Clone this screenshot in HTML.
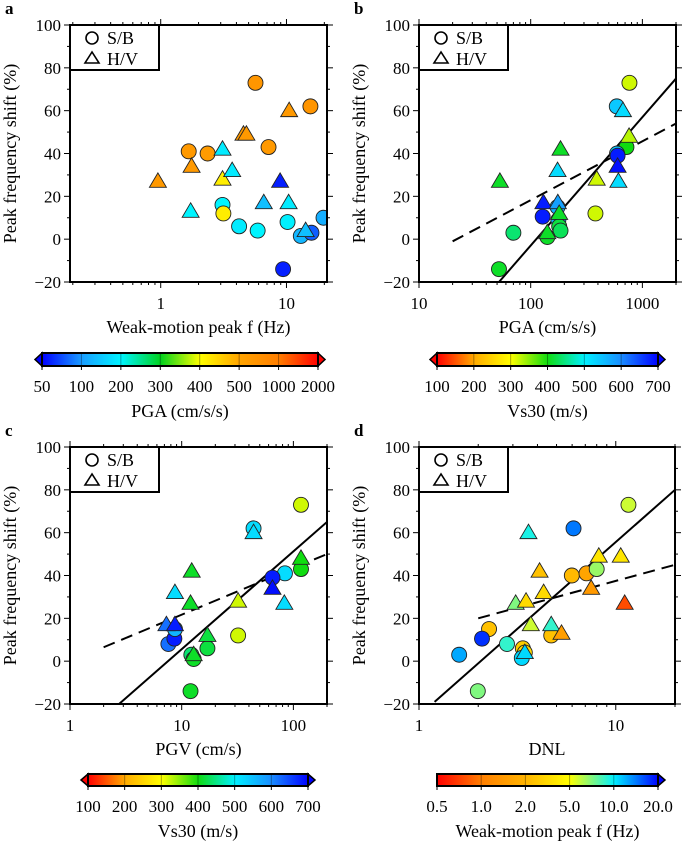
<!DOCTYPE html>
<html><head><meta charset="utf-8">
<style>
html,body{margin:0;padding:0;background:#fff;}
svg{display:block;}
svg text{font-family:"Liberation Serif","Times New Roman",serif;}
</style></head>
<body>
<svg id="fig" width="685" height="845" viewBox="0 0 685 845" xmlns="http://www.w3.org/2000/svg" font-family="Liberation Serif, serif"></svg>
<script>
// ---------- Panel a data: weak-motion peak f vs shift, colored by PGA ----------
const aX = [1.67,2.36,5.67,7.2,15.5,3.1,3.15,4.2,5.9,10.2,19.7,13,15.8,9.4, 0.95,1.76,1.73,3.1,3.1,3.7,4.55,4.8,10.5,8.9,6.6,10.4,14.2];
const aY = [41,40,73,43,62,16,12,6,4,8,10,1.5,3,-14, 27,34,13,42,28,32,49,49,60,27,17,17,4];
const aC = [650,620,680,640,700,200,420,190,200,195,120,130,80,60, 650,640,200,190,420,190,650,650,650,60,140,190,140];
const aS = ["c","c","c","c","c","c","c","c","c","c","c","c","c","c", "t","t","t","t","t","t","t","t","t","t","t","t","t"];
// ---------- Panel b data: PGA vs shift, colored by Vs30 ----------
const bX = [766,590,720,593,600,380,128,174,177,180,185,141,70,52, 53,185,174,130,175,180,141,390,610,600,670,760];
const bY = [73,62,43,40,39,12,10.5,15,9,6,4,1,3,-14, 27,42,32,17,17,12,3,28,27,34,60,48];
const bC = [320,540,400,540,680,320,680,560,560,420,430,410,440,410, 410,410,520,680,580,410,410,320,520,690,520,330];
const bS = ["c","c","c","c","c","c","c","c","c","c","c","c","c","c", "t","t","t","t","t","t","t","t","t","t","t","t"];
const bSolidX = [52,2000], bSolidY = [-20,75];
const bDashX = [20,2000], bDashY = [-1,54];
// ---------- Panel c data: PGV vs shift, colored by Vs30 ----------
const cX = [117,44,117,84,65,32,7.6,8.6,8.7,12.2,12.8,17,12, 7.3,8.7,8.7,12.3,12,17,12.8,32,65,83,44,117];
const cY = [73,62,43,41,39,12,8,10.5,15,3,1,6,-14, 17,17,32,42,27,12,3,28,34,27,60,48];
const cC = [320,520,400,520,680,320,620,680,560,440,410,420,410, 620,680,520,410,410,420,410,320,690,520,520,400];
const cS = ["c","c","c","c","c","c","c","c","c","c","c","c","c", "t","t","t","t","t","t","t","t","t","t","t","t"];
const cSolidX = [2.75,200], cSolidY = [-20,65];
const cDashX = [2,200], cDashY = [6.5,50];
// ---------- Panel d data: DNL vs shift, colored by weak-motion f ----------
const dX = [11.6,6.1,5.98,7.1,8,2.27,2.09,1.6,2.8,3.37,3.45,3.33,4.7,1.99, 3.6,4.1,4.3,3.1,3.5,3.7,4.7,5.3,3.45,7.5,8.2,10.6,11.1];
const dY = [73,62,40,41,43,15,10.5,3,8,6,4,1.5,12,-14, 60,42,32,27,28,17,17,13,4,34,49,49,27];
const dC = [6,15,2.2,1.7,7,2.5,18,13,9,3,3.5,11,2.5,7.5, 9.5,2.5,3.5,7.5,3.5,6,9,1.6,11,1.5,4,4,0.8];
const dS = ["c","c","c","c","c","c","c","c","c","c","c","c","c","c", "t","t","t","t","t","t","t","t","t","t","t","t","t"];
const dSolidX = [1.2,20], dSolidY = [-19,80];
const dDashX = [2,20], dDashY = [20,45];
// ---------- Color scales ----------
const pgaTicks = [50,100,200,300,400,500,1000,2000];
const pgaColors = ["#0000ff","#1a9cff","#00f4ff","#00d21e","#ffff00","#ffa400","#ff7e00","#ff0000"];
const vsTicks = [100,200,300,400,500,600,700];
const vsColors = ["#ff0000","#ffaa00","#ffff00","#10dc10","#00f0ff","#1a8cff","#0000ff"];
const fTicks = [0.5,1.0,2.0,5.0,10.0,20.0];
const fTickLabels = ["0.5","1.0","2.0","5.0","10.0","20.0"];
const fColors = ["#ff0000","#ff7e00","#ffb400","#ffff00","#00f0ff","#0000ff"];

const NS = "http://www.w3.org/2000/svg";
const svg = document.getElementById("fig");
function mk(tag, attrs, parent){
  const e = document.createElementNS(NS, tag);
  for (const k in attrs) e.setAttribute(k, attrs[k]);
  if (tag==="text") e.setAttribute("font-family","Liberation Serif, serif");
  (parent||svg).appendChild(e);
  return e;
}
function hex2rgb(h){return [parseInt(h.substr(1,2),16),parseInt(h.substr(3,2),16),parseInt(h.substr(5,2),16)];}
function colorFor(v, ticks, cols){
  if (v <= ticks[0]) return cols[0];
  if (v >= ticks[ticks.length-1]) return cols[cols.length-1];
  for (let i=0;i<ticks.length-1;i++){
    if (v>=ticks[i] && v<=ticks[i+1]){
      const t=(v-ticks[i])/(ticks[i+1]-ticks[i]);
      const a=hex2rgb(cols[i]), b=hex2rgb(cols[i+1]);
      return "rgb("+a.map((x,j)=>Math.round(x+(b[j]-x)*t)).join(",")+")";
    }
  }
}

function panel(p){
  const g = mk("g", {});
  
  
  const lx0=Math.log10(p.xmin), lx1=Math.log10(p.xmax);
  const X = v => p.x0 + (Math.log10(v)-lx0)/(lx1-lx0)*p.w;
  const Y = v => p.y1 - (v+20)/120*(p.y1-p.y0);
  const lt = mk("text",{x:p.x0-65, y:p.y0-11, "font-size":17, "font-weight":"bold"}, g);
  lt.textContent = p.letter;
  
  
  for (let v=-20; v<=100; v+=20){
    const y=Y(v);
    mk("line",{x1:p.x0-6,x2:p.x0,y1:y,y2:y,stroke:"#000","stroke-width":1},g);
    mk("line",{x1:p.x0+p.w,x2:p.x0+p.w+6,y1:y,y2:y,stroke:"#000","stroke-width":1},g);
    const t=mk("text",{x:p.x0-9,y:y+6,"font-size":17,"text-anchor":"end"},g);
    t.textContent = v<0 ? "\u221220" : String(v);
    
    
    if (v<100){ const ym=Y(v+10);
      mk("line",{x1:p.x0-3,x2:p.x0,y1:ym,y2:ym,stroke:"#000","stroke-width":1},g);
      mk("line",{x1:p.x0+p.w,x2:p.x0+p.w+3,y1:ym,y2:ym,stroke:"#000","stroke-width":1},g);}
  }
  for (let d=Math.floor(lx0); d<=Math.ceil(lx1); d++){
    for (let m=1;m<10;m++){
      const v=m*Math.pow(10,d);
      if (v<p.xmin*0.999||v>p.xmax*1.001) continue;
      const x=X(v), L = m===1?6:3;
      mk("line",{x1:x,x2:x,y1:p.y1,y2:p.y1+L,stroke:"#000","stroke-width":1},g);
      mk("line",{x1:x,x2:x,y1:p.y0-L,y2:p.y0,stroke:"#000","stroke-width":1},g);
      if (m===1){
        const t=mk("text",{x:x,y:p.y1+27,"font-size":17,"text-anchor":"middle"},g);
        t.textContent=String(v);
        
        
      }
    }
  }
  const xt=mk("text",{x:p.x0+p.w/2,y:p.y1+51,"font-size":18,"text-anchor":"middle"},g);
  xt.textContent=p.xtitle;
  
  
  const yc=(p.y0+p.y1)/2, yx=p.x0-54;
  const yt=mk("text",{x:yx,y:yc,"font-size":18,"text-anchor":"middle",transform:"rotate(-90 "+yx+" "+yc+")"},g);
  yt.textContent="Peak frequency shift (%)";
  
  
  const cid="clip"+p.letter;
  const cp=mk("clipPath",{id:cid},g);
  mk("rect",{x:p.x0,y:p.y0,width:p.w,height:p.y1-p.y0},cp);
  const inner=mk("g",{"clip-path":"url(#"+cid+")"},g);
  if (p.solidX){
    const l=mk("line",{x1:X(p.solidX[0]),y1:Y(p.solidY[0]),x2:X(p.solidX[1]),y2:Y(p.solidY[1]),stroke:"#000","stroke-width":2},inner);
    
    
    const l2=mk("line",{x1:X(p.dashX[0]),y1:Y(p.dashY[0]),x2:X(p.dashX[1]),y2:Y(p.dashY[1]),stroke:"#000","stroke-width":2,"stroke-dasharray":"12,7"},inner);
    
    
  }
  for (let i=0;i<p.xs.length;i++){
    const x=X(p.xs[i]), y=Y(p.ys[i]);
    const col=colorFor(p.cs[i],p.cticks,p.ccols);
    let e;
    if (p.ss[i]==="c"){
      e=mk("circle",{cx:x,cy:y,r:7.5,fill:col,stroke:"#222","stroke-width":0.9},inner);
      
    } else {
      const s=8.5;
      e=mk("polygon",{points:(x)+","+(y-s)+" "+(x-s)+","+(y+s*0.7)+" "+(x+s)+","+(y+s*0.7),fill:col,stroke:"#222","stroke-width":0.9},inner);
      
    }
    
  }
  const lg=mk("g",{},g);
  
  
  mk("rect",{x:p.x0,y:p.y0,width:89,height:45,fill:"#fff",stroke:"#000","stroke-width":2},lg);
  mk("circle",{cx:p.x0+22,cy:p.y0+13,r:6,fill:"none",stroke:"#000","stroke-width":1.6},lg);
  mk("polygon",{points:(p.x0+22)+","+(p.y0+27)+" "+(p.x0+15)+","+(p.y0+38)+" "+(p.x0+29)+","+(p.y0+38),fill:"none",stroke:"#000","stroke-width":1.6},lg);
  const t1=mk("text",{x:p.x0+37,y:p.y0+19,"font-size":18},lg); t1.textContent="S/B";
  
  
  const t2=mk("text",{x:p.x0+37,y:p.y0+40,"font-size":18},lg); t2.textContent="H/V";
  
  
  const fr=mk("rect",{x:p.x0,y:p.y0,width:p.w,height:p.y1-p.y0,fill:"none",stroke:"#000","stroke-width":2},g);
  
  
}

function colorbar(c){
  const g=mk("g",{});
  
  
  const n=c.ticks.length-1, sw=(c.x1-c.x0)/n, h=c.y1-c.y0, ym=(c.y0+c.y1)/2;
  if (c.left) mk("polygon",{points:c.x0+","+c.y0+" "+(c.x0-7)+","+ym+" "+c.x0+","+c.y1,fill:c.cols[0],stroke:"#000","stroke-width":1.5},g);
  if (c.right) mk("polygon",{points:c.x1+","+c.y0+" "+(c.x1+7)+","+ym+" "+c.x1+","+c.y1,fill:c.cols[n],stroke:"#000","stroke-width":1.5},g);
  for (let i=0;i<n;i++){
    const gid="grad"+c.id+i;
    const lgd=mk("linearGradient",{id:gid,x1:0,x2:1,y1:0,y2:0},g);
    mk("stop",{offset:0,"stop-color":c.cols[i]},lgd);
    mk("stop",{offset:1,"stop-color":c.cols[i+1]},lgd);
    mk("rect",{x:c.x0+i*sw,y:c.y0,width:sw+0.5,height:h,fill:"url(#"+gid+")"},g);
    if (i>0) mk("line",{x1:c.x0+i*sw,x2:c.x0+i*sw,y1:c.y0,y2:c.y1,stroke:"rgba(0,0,0,0.35)","stroke-width":1},g);
  }
  mk("rect",{x:c.x0,y:c.y0,width:c.x1-c.x0,height:h,fill:"none",stroke:"#000","stroke-width":2},g);
  for (let i=0;i<=n;i++){
    const x=c.x0+i*sw;
    mk("line",{x1:x,x2:x,y1:c.y1,y2:c.y1+4,stroke:"#000","stroke-width":1},g);
    const t=mk("text",{x:x,y:c.y1+26,"font-size":17,"text-anchor":"middle"},g);
    t.textContent=c.labels[i];
    
    
  }
  const tt=mk("text",{x:(c.x0+c.x1)/2,y:c.y1+51,"font-size":18,"text-anchor":"middle"},g);
  tt.textContent=c.title;
  
  
}

panel({letter:"a",x0:70,w:257,y0:25,y1:282,xmin:0.19,xmax:21,xtitle:"Weak-motion peak f (Hz)",
  xs:aX,ys:aY,cs:aC,ss:aS,cticks:pgaTicks,ccols:pgaColors});
panel({letter:"b",x0:419,w:257,y0:25,y1:282,xmin:10,xmax:2000,xtitle:"PGA (cm/s/s)",
  xs:bX,ys:bY,cs:bC,ss:bS,cticks:vsTicks,ccols:vsColors,solidX:bSolidX,solidY:bSolidY,dashX:bDashX,dashY:bDashY});
panel({letter:"c",x0:70,w:257,y0:447,y1:704,xmin:1,xmax:200,xtitle:"PGV (cm/s)",
  xs:cX,ys:cY,cs:cC,ss:cS,cticks:vsTicks,ccols:vsColors,solidX:cSolidX,solidY:cSolidY,dashX:cDashX,dashY:cDashY});
panel({letter:"d",x0:419,w:256,y0:447,y1:704,xmin:1,xmax:20,xtitle:"DNL",
  xs:dX,ys:dY,cs:dC,ss:dS,cticks:fTicks,ccols:fColors,solidX:dSolidX,solidY:dSolidY,dashX:dDashX,dashY:dDashY});

colorbar({id:"a",x0:42,x1:318,y0:353,y1:366,ticks:pgaTicks,labels:pgaTicks.map(String),cols:pgaColors,left:true,right:true,title:"PGA (cm/s/s)"});
colorbar({id:"b",x0:437,x1:658,y0:353,y1:366,ticks:vsTicks,labels:vsTicks.map(String),cols:vsColors,left:true,right:true,title:"Vs30 (m/s)"});
colorbar({id:"c",x0:88,x1:308,y0:774,y1:786,ticks:vsTicks,labels:vsTicks.map(String),cols:vsColors,left:true,right:true,title:"Vs30 (m/s)"});
colorbar({id:"d",x0:437,x1:658,y0:774,y1:786,ticks:fTicks,labels:fTickLabels,cols:fColors,left:false,right:true,title:"Weak-motion peak f (Hz)"});
</script>
</body></html>
